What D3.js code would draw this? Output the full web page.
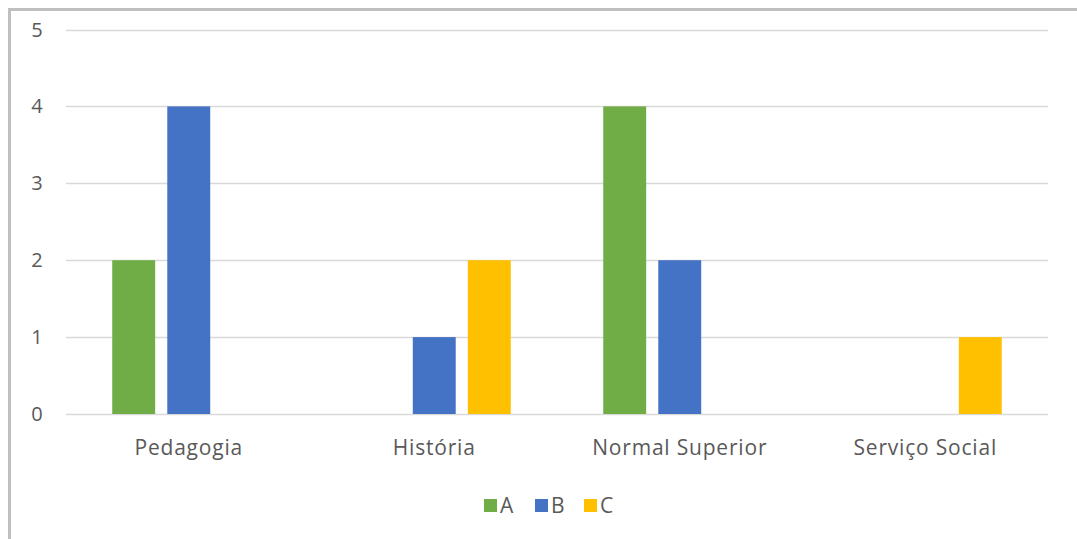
<html>
<head>
<meta charset="utf-8">
<title>Bar Chart</title>
<style>
  body { margin: 0; background: #fff; }
  text { font-family: "Open Sans", sans-serif; fill: #595959; }
</style>
<script src="https://d3js.org/d3.v7.min.js"></script>
</head>
<body>
<svg width="1077" height="539"></svg>
<script>
var categories = ["Pedagogia", "História", "Normal Superior", "Serviço Social"];
var seriesNames = ["A", "B", "C"];
var valuesA = [2, 0, 4, 0];
var valuesB = [4, 1, 2, 0];
var valuesC = [0, 2, 0, 1];
var yTicks = [0, 1, 2, 3, 4, 5];
var colors = ["#70AD47", "#4472C4", "#FFC000"];

var svg = d3.select("svg");

// chart frame (only top and left edges visible in picture)
svg.append("rect")
  .attr("x", 9.5).attr("y", 9.5)
  .attr("width", 1100).attr("height", 560)
  .attr("fill", "none")
  .attr("stroke", "#bfbfbf")
  .attr("stroke-width", 3);

var plotLeft = 66, plotRight = 1048, plotTop = 29.5, plotBottom = 414;

var x = d3.scaleBand().domain(categories).range([plotLeft, plotRight]);
var y = d3.scaleLinear().domain([0, 5]).range([plotBottom, plotTop]);

// gridlines
svg.append("g")
  .selectAll("line")
  .data(yTicks)
  .join("line")
  .attr("x1", plotLeft).attr("x2", plotRight)
  .attr("y1", d => Math.round(y(d)) + 0.5)
  .attr("y2", d => Math.round(y(d)) + 0.5)
  .attr("stroke", "#d9d9d9")
  .attr("stroke-width", 1.5);

// y labels
svg.append("g")
  .selectAll("text")
  .data(yTicks)
  .join("text")
  .attr("x", 37)
  .attr("y", d => y(d))
  .attr("dy", "0.35em")
  .attr("text-anchor", "middle")
  .attr("font-size", 20)
  .text(d => d);

var series = [valuesA, valuesB, valuesC];
var inner = d3.scaleBand().domain(seriesNames)
  .range([0, x.bandwidth()])
  .paddingInner(0.22)
  .paddingOuter(0.84);

seriesNames.forEach(function(s, i) {
  svg.append("g")
    .selectAll("rect")
    .data(series[i])
    .join("rect")
    .attr("x", (d, j) => x(categories[j]) + inner(s))
    .attr("width", inner.bandwidth())
    .attr("y", d => y(d))
    .attr("height", d => y(0) - y(d))
    .attr("fill", colors[i]);
});

// category labels
svg.append("g")
  .selectAll("text")
  .data(categories)
  .join("text")
  .attr("x", d => x(d) + x.bandwidth() / 2)
  .attr("y", 448)
  .attr("dy", "0.35em")
  .attr("text-anchor", "middle")
  .attr("font-size", 21)
  .attr("letter-spacing", 0.8)
  .text(d => d);

// legend
var legendX = [484, 535, 584];
var lg = svg.append("g");
seriesNames.forEach(function(s, i) {
  lg.append("rect")
    .attr("x", legendX[i]).attr("y", 499)
    .attr("width", 13).attr("height", 13)
    .attr("fill", colors[i]);
  lg.append("text")
    .attr("x", legendX[i] + 16).attr("y", 506)
    .attr("dy", "0.35em")
    .attr("font-size", 21)
    .text(s);
});
</script>
</body>
</html>
